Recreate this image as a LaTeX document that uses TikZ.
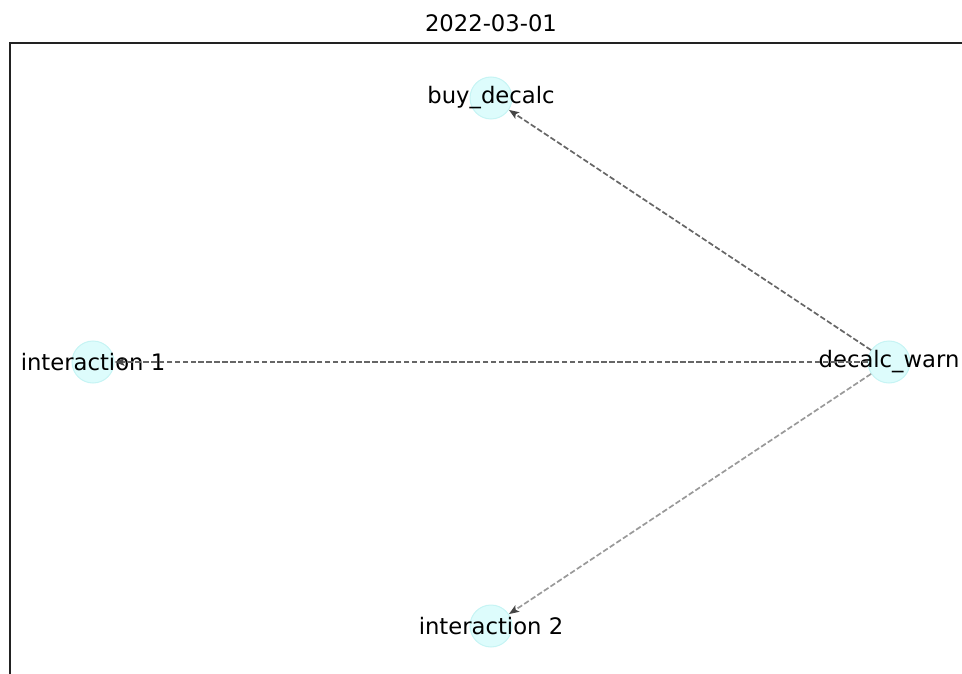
\documentclass[tikz,border=0pt]{standalone}
\usepackage{fontspec}
\setmainfont{DejaVu Sans}
\usetikzlibrary{arrows.meta}
\definecolor{netFill}{HTML}{DDFCFC}
\definecolor{netRing}{HTML}{C6F4F4}
\definecolor{netEdge}{HTML}{666666}
\definecolor{netEdgeLight}{HTML}{999999}
\definecolor{netTip}{HTML}{454545}
\definecolor{netFrame}{HTML}{222222}
\tikzset{
  net node/.style={circle, fill=netFill, draw=netRing, line width=1pt,
    minimum size=42pt, inner sep=0pt},
  net label/.style={font=\fontsize{22.7}{26}\selectfont, text=black},
  net edge/.style={netEdge, line width=1.7pt, dash pattern=on 5.5pt off 2.4pt,
    -{Stealth[length=10pt,width=7.5pt,inset=2pt,color=netTip,fill=netTip]}},
}

\begin{document}
\begin{tikzpicture}[x=1pt, y=-1pt]
  \useasboundingbox (0,0) rectangle (962,674);

  % ===== Title and frame =====
  \node[net label] (title) at (491,23) {2022-03-01};
  \draw[netFrame, line width=1.3pt] (10,674) -- (10,43) -- (962,43);

  % ===== Nodes =====
  \node[net node, label={[net label]center:buy\_decalc}] (buy) at (491,98) {};
  \node[net node, label={[net label]center:interaction 1}] (inter1) at (93,362) {};
  \node[net node, label={[net label]center:decalc\_warn}] (warn) at (889,362) {};
  \node[net node, label={[net label]center:interaction 2}] (inter2) at (491,626) {};

  % ===== Edges =====
  \draw[net edge] (warn) -- (buy);
  \draw[net edge] (warn) -- (inter1);
  \draw[net edge, netEdgeLight] (warn) -- (inter2);
\end{tikzpicture}
\end{document}
